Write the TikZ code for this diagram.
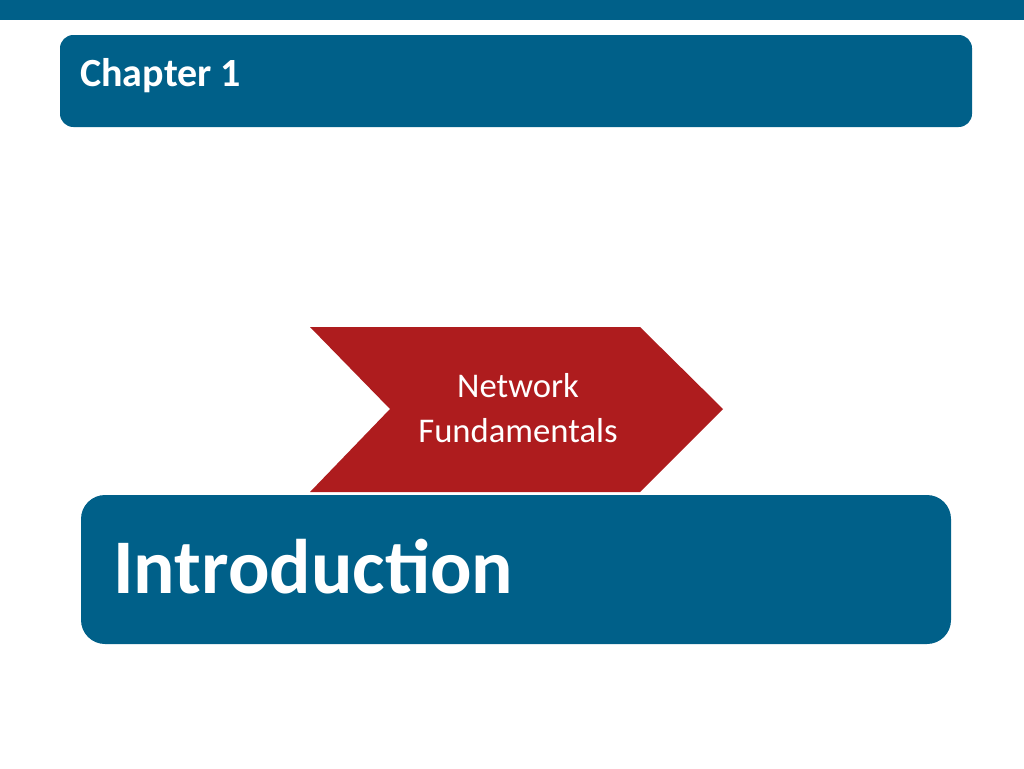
\documentclass[tikz,border=0pt]{standalone}
\usepackage{fontspec}
\setmainfont{Carlito}
\definecolor{slideblue}{HTML}{006089}
\definecolor{chevronred}{HTML}{AE1C1E}
\tikzset{
  bluebox/.style={fill=slideblue,draw=none},
  boxtext/.style={text=white,font=\bfseries,anchor=west,inner sep=0pt}
}
\begin{document}
\begin{tikzpicture}[x=0.75pt,y=-0.75pt]
  \useasboundingbox (0,0) rectangle (1024,768);
  \fill[slideblue] (0,0) rectangle (1024,20);
  % chapter banner
  \filldraw[bluebox,rounded corners=10] (60,35) rectangle (972,127);
  \node[boxtext,font=\bfseries\fontsize{30}{36}\selectfont] (chapter) at (80,76) {Chapter 1};
  % chevron
  \fill[chevronred] (310,327) -- (640,327) -- (723,409) -- (640,492) -- (310,492) -- (390,409) -- cycle;
  \node[text=white,align=center,font=\fontsize{26}{34}\selectfont] (topic) at (518,408) {Network\\Fundamentals};
  % title box
  \filldraw[bluebox,rounded corners=18] (81,495) rectangle (951,644);
  \node[boxtext,font=\bfseries\fontsize{58}{64}\selectfont] (title) at (113,567) {Introduction};
\end{tikzpicture}
\end{document}
